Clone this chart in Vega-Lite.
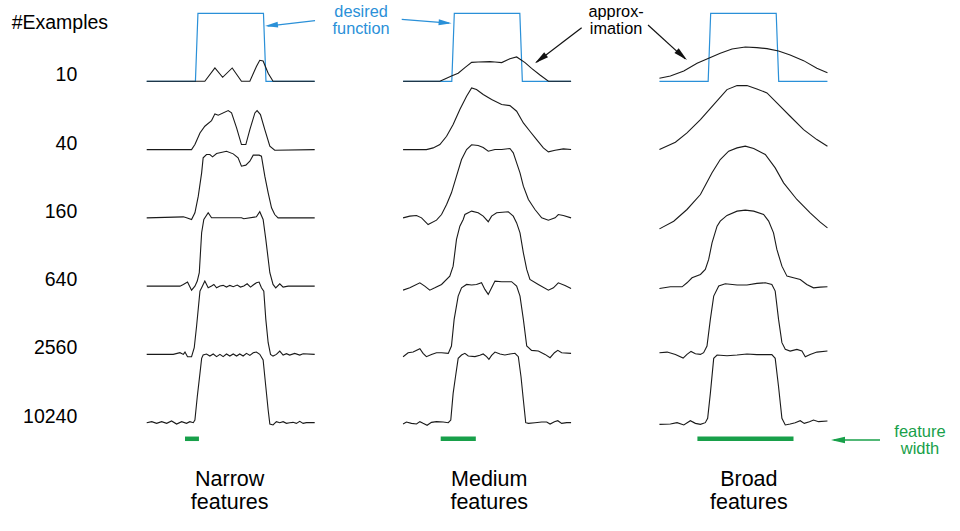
{
"$schema":"https://vega.github.io/schema/vega-lite/v6.json",
"width":960,"height":531,
"autosize":{"type":"fit","contains":"padding"},
"padding":0,
"background":"white",
"config":{"view":{"stroke":null},"text":{"font":"Liberation Sans"}},
"datasets":{
"desired":[
{"features":"Narrow","examples":10,"x":0,"y":0},{"features":"Narrow","examples":10,"x":0.29,"y":0},{"features":"Narrow","examples":10,"x":0.305,"y":1},{"features":"Narrow","examples":10,"x":0.695,"y":1},{"features":"Narrow","examples":10,"x":0.71,"y":0},{"features":"Narrow","examples":10,"x":1,"y":0},
{"features":"Medium","examples":10,"x":0,"y":0},{"features":"Medium","examples":10,"x":0.29,"y":0},{"features":"Medium","examples":10,"x":0.305,"y":1},{"features":"Medium","examples":10,"x":0.695,"y":1},{"features":"Medium","examples":10,"x":0.71,"y":0},{"features":"Medium","examples":10,"x":1,"y":0},
{"features":"Broad","examples":10,"x":0,"y":0},{"features":"Broad","examples":10,"x":0.29,"y":0},{"features":"Broad","examples":10,"x":0.305,"y":1},{"features":"Broad","examples":10,"x":0.695,"y":1},{"features":"Broad","examples":10,"x":0.71,"y":0},{"features":"Broad","examples":10,"x":1,"y":0}
],
"approx":[
{"features":"Narrow","examples":10,"x":0,"y":0},{"features":"Narrow","examples":10,"x":0.346,"y":0},{"features":"Narrow","examples":10,"x":0.406,"y":0.196},{"features":"Narrow","examples":10,"x":0.452,"y":0.059},{"features":"Narrow","examples":10,"x":0.509,"y":0.196},{"features":"Narrow","examples":10,"x":0.564,"y":0},{"features":"Narrow","examples":10,"x":0.614,"y":0},{"features":"Narrow","examples":10,"x":0.653,"y":0.216},{"features":"Narrow","examples":10,"x":0.673,"y":0.309},{"features":"Narrow","examples":10,"x":0.693,"y":0.299},{"features":"Narrow","examples":10,"x":0.723,"y":0.118},{"features":"Narrow","examples":10,"x":0.752,"y":0},{"features":"Narrow","examples":10,"x":1,"y":0},

{"features":"Narrow","examples":40,"x":0,"y":0},{"features":"Narrow","examples":40,"x":0.267,"y":0},{"features":"Narrow","examples":40,"x":0.287,"y":0.074},{"features":"Narrow","examples":40,"x":0.317,"y":0.245},{"features":"Narrow","examples":40,"x":0.346,"y":0.343},{"features":"Narrow","examples":40,"x":0.386,"y":0.426},{"features":"Narrow","examples":40,"x":0.406,"y":0.525},{"features":"Narrow","examples":40,"x":0.426,"y":0.505},{"features":"Narrow","examples":40,"x":0.485,"y":0.574},{"features":"Narrow","examples":40,"x":0.505,"y":0.539},{"features":"Narrow","examples":40,"x":0.535,"y":0.319},{"features":"Narrow","examples":40,"x":0.564,"y":0.074},{"features":"Narrow","examples":40,"x":0.59,"y":0.074},{"features":"Narrow","examples":40,"x":0.614,"y":0.294},{"features":"Narrow","examples":40,"x":0.644,"y":0.539},{"features":"Narrow","examples":40,"x":0.657,"y":0.574},{"features":"Narrow","examples":40,"x":0.677,"y":0.515},{"features":"Narrow","examples":40,"x":0.703,"y":0.294},{"features":"Narrow","examples":40,"x":0.733,"y":0.049},{"features":"Narrow","examples":40,"x":0.762,"y":-0.01},{"features":"Narrow","examples":40,"x":1,"y":0},

{"features":"Narrow","examples":160,"x":0,"y":0},{"features":"Narrow","examples":160,"x":0.218,"y":0.015},{"features":"Narrow","examples":160,"x":0.237,"y":0},{"features":"Narrow","examples":160,"x":0.267,"y":-0.025},{"features":"Narrow","examples":160,"x":0.287,"y":0.074},{"features":"Narrow","examples":160,"x":0.307,"y":0.319},{"features":"Narrow","examples":160,"x":0.327,"y":0.662},{"features":"Narrow","examples":160,"x":0.336,"y":0.882},{"features":"Narrow","examples":160,"x":0.356,"y":0.931},{"features":"Narrow","examples":160,"x":0.376,"y":0.931},{"features":"Narrow","examples":160,"x":0.392,"y":0.897},{"features":"Narrow","examples":160,"x":0.416,"y":0.946},{"features":"Narrow","examples":160,"x":0.475,"y":0.98},{"features":"Narrow","examples":160,"x":0.515,"y":0.941},{"features":"Narrow","examples":160,"x":0.544,"y":0.882},{"features":"Narrow","examples":160,"x":0.564,"y":0.76},{"features":"Narrow","examples":160,"x":0.59,"y":0.775},{"features":"Narrow","examples":160,"x":0.614,"y":0.833},{"features":"Narrow","examples":160,"x":0.634,"y":0.922},{"features":"Narrow","examples":160,"x":0.669,"y":0.922},{"features":"Narrow","examples":160,"x":0.683,"y":0.907},{"features":"Narrow","examples":160,"x":0.703,"y":0.613},{"features":"Narrow","examples":160,"x":0.723,"y":0.368},{"features":"Narrow","examples":160,"x":0.743,"y":0.147},{"features":"Narrow","examples":160,"x":0.762,"y":0.049},{"features":"Narrow","examples":160,"x":0.782,"y":0},{"features":"Narrow","examples":160,"x":1,"y":0},

{"features":"Narrow","examples":640,"x":0,"y":0},{"features":"Narrow","examples":640,"x":0.198,"y":0},{"features":"Narrow","examples":640,"x":0.218,"y":0.025},{"features":"Narrow","examples":640,"x":0.243,"y":0.059},{"features":"Narrow","examples":640,"x":0.267,"y":-0.059},{"features":"Narrow","examples":640,"x":0.287,"y":0},{"features":"Narrow","examples":640,"x":0.301,"y":0.074},{"features":"Narrow","examples":640,"x":0.313,"y":0.197},{"features":"Narrow","examples":640,"x":0.327,"y":0.785},{"features":"Narrow","examples":640,"x":0.34,"y":0.98},{"features":"Narrow","examples":640,"x":0.366,"y":1.08},{"features":"Narrow","examples":640,"x":0.386,"y":1.006},{"features":"Narrow","examples":640,"x":0.564,"y":1.006},{"features":"Narrow","examples":640,"x":0.578,"y":0.991},{"features":"Narrow","examples":640,"x":0.653,"y":1.02},{"features":"Narrow","examples":640,"x":0.673,"y":1.094},{"features":"Narrow","examples":640,"x":0.693,"y":0.98},{"features":"Narrow","examples":640,"x":0.709,"y":0.687},{"features":"Narrow","examples":640,"x":0.733,"y":0.197},{"features":"Narrow","examples":640,"x":0.752,"y":0.025},{"features":"Narrow","examples":640,"x":0.768,"y":-0.025},{"features":"Narrow","examples":640,"x":0.792,"y":0.035},{"features":"Narrow","examples":640,"x":0.812,"y":-0.015},{"features":"Narrow","examples":640,"x":0.842,"y":0},{"features":"Narrow","examples":640,"x":1,"y":0},

{"features":"Narrow","examples":2560,"x":0,"y":0},{"features":"Narrow","examples":2560,"x":0.158,"y":0},{"features":"Narrow","examples":2560,"x":0.198,"y":0.025},{"features":"Narrow","examples":2560,"x":0.218,"y":0},{"features":"Narrow","examples":2560,"x":0.228,"y":0.034},{"features":"Narrow","examples":2560,"x":0.243,"y":-0.034},{"features":"Narrow","examples":2560,"x":0.267,"y":-0.034},{"features":"Narrow","examples":2560,"x":0.283,"y":0.098},{"features":"Narrow","examples":2560,"x":0.297,"y":0.417},{"features":"Narrow","examples":2560,"x":0.317,"y":0.931},{"features":"Narrow","examples":2560,"x":0.327,"y":0.98},{"features":"Narrow","examples":2560,"x":0.346,"y":1.078},{"features":"Narrow","examples":2560,"x":0.366,"y":0.98},{"features":"Narrow","examples":2560,"x":0.386,"y":1.005},{"features":"Narrow","examples":2560,"x":0.4,"y":1.029},{"features":"Narrow","examples":2560,"x":0.416,"y":0.98},{"features":"Narrow","examples":2560,"x":0.436,"y":1.005},{"features":"Narrow","examples":2560,"x":0.455,"y":1.015},{"features":"Narrow","examples":2560,"x":0.475,"y":0.99},{"features":"Narrow","examples":2560,"x":0.495,"y":1.015},{"features":"Narrow","examples":2560,"x":0.515,"y":0.995},{"features":"Narrow","examples":2560,"x":0.539,"y":1.02},{"features":"Narrow","examples":2560,"x":0.558,"y":0.99},{"features":"Narrow","examples":2560,"x":0.578,"y":1.005},{"features":"Narrow","examples":2560,"x":0.598,"y":1.039},{"features":"Narrow","examples":2560,"x":0.618,"y":0.99},{"features":"Narrow","examples":2560,"x":0.634,"y":1.02},{"features":"Narrow","examples":2560,"x":0.653,"y":1.054},{"features":"Narrow","examples":2560,"x":0.669,"y":1.064},{"features":"Narrow","examples":2560,"x":0.683,"y":0.98},{"features":"Narrow","examples":2560,"x":0.697,"y":0.931},{"features":"Narrow","examples":2560,"x":0.709,"y":0.515},{"features":"Narrow","examples":2560,"x":0.723,"y":0.172},{"features":"Narrow","examples":2560,"x":0.737,"y":0},{"features":"Narrow","examples":2560,"x":0.752,"y":-0.025},{"features":"Narrow","examples":2560,"x":0.772,"y":0},{"features":"Narrow","examples":2560,"x":0.792,"y":0.049},{"features":"Narrow","examples":2560,"x":0.812,"y":-0.01},{"features":"Narrow","examples":2560,"x":0.832,"y":0.01},{"features":"Narrow","examples":2560,"x":0.851,"y":-0.01},{"features":"Narrow","examples":2560,"x":0.881,"y":0.015},{"features":"Narrow","examples":2560,"x":0.911,"y":-0.01},{"features":"Narrow","examples":2560,"x":0.931,"y":0.01},{"features":"Narrow","examples":2560,"x":1,"y":0},

{"features":"Narrow","examples":10240,"x":0,"y":0},{"features":"Narrow","examples":10240,"x":0.03,"y":0.015},{"features":"Narrow","examples":10240,"x":0.059,"y":-0.01},{"features":"Narrow","examples":10240,"x":0.089,"y":0.015},{"features":"Narrow","examples":10240,"x":0.119,"y":-0.01},{"features":"Narrow","examples":10240,"x":0.148,"y":0.025},{"features":"Narrow","examples":10240,"x":0.178,"y":-0.02},{"features":"Narrow","examples":10240,"x":0.208,"y":0.015},{"features":"Narrow","examples":10240,"x":0.237,"y":-0.01},{"features":"Narrow","examples":10240,"x":0.257,"y":0.015},{"features":"Narrow","examples":10240,"x":0.277,"y":0},{"features":"Narrow","examples":10240,"x":0.287,"y":0.039},{"features":"Narrow","examples":10240,"x":0.301,"y":0.382},{"features":"Narrow","examples":10240,"x":0.317,"y":0.725},{"features":"Narrow","examples":10240,"x":0.327,"y":0.946},{"features":"Narrow","examples":10240,"x":0.336,"y":0.995},{"features":"Narrow","examples":10240,"x":0.356,"y":1.01},{"features":"Narrow","examples":10240,"x":0.376,"y":0.98},{"features":"Narrow","examples":10240,"x":0.396,"y":1.01},{"features":"Narrow","examples":10240,"x":0.416,"y":0.971},{"features":"Narrow","examples":10240,"x":0.436,"y":1.005},{"features":"Narrow","examples":10240,"x":0.455,"y":0.971},{"features":"Narrow","examples":10240,"x":0.475,"y":1.01},{"features":"Narrow","examples":10240,"x":0.495,"y":0.98},{"features":"Narrow","examples":10240,"x":0.515,"y":1.01},{"features":"Narrow","examples":10240,"x":0.535,"y":0.98},{"features":"Narrow","examples":10240,"x":0.554,"y":1.01},{"features":"Narrow","examples":10240,"x":0.574,"y":0.98},{"features":"Narrow","examples":10240,"x":0.594,"y":1.02},{"features":"Narrow","examples":10240,"x":0.614,"y":0.99},{"features":"Narrow","examples":10240,"x":0.634,"y":1.029},{"features":"Narrow","examples":10240,"x":0.653,"y":1.039},{"features":"Narrow","examples":10240,"x":0.673,"y":1.005},{"features":"Narrow","examples":10240,"x":0.693,"y":0.922},{"features":"Narrow","examples":10240,"x":0.709,"y":0.529},{"features":"Narrow","examples":10240,"x":0.723,"y":0.186},{"features":"Narrow","examples":10240,"x":0.733,"y":-0.02},{"features":"Narrow","examples":10240,"x":0.752,"y":-0.034},{"features":"Narrow","examples":10240,"x":0.772,"y":0.015},{"features":"Narrow","examples":10240,"x":0.792,"y":0},{"features":"Narrow","examples":10240,"x":0.812,"y":0.015},{"features":"Narrow","examples":10240,"x":0.832,"y":-0.01},{"features":"Narrow","examples":10240,"x":0.851,"y":0},{"features":"Narrow","examples":10240,"x":0.871,"y":0.005},{"features":"Narrow","examples":10240,"x":0.891,"y":-0.01},{"features":"Narrow","examples":10240,"x":0.911,"y":0.02},{"features":"Narrow","examples":10240,"x":0.931,"y":-0.01},{"features":"Narrow","examples":10240,"x":0.95,"y":0},{"features":"Narrow","examples":10240,"x":1,"y":0},

{"features":"Medium","examples":10,"x":0,"y":0},{"features":"Medium","examples":10,"x":0.219,"y":0},{"features":"Medium","examples":10,"x":0.249,"y":0.034},{"features":"Medium","examples":10,"x":0.288,"y":0.078},{"features":"Medium","examples":10,"x":0.328,"y":0.118},{"features":"Medium","examples":10,"x":0.368,"y":0.201},{"features":"Medium","examples":10,"x":0.408,"y":0.279},{"features":"Medium","examples":10,"x":0.447,"y":0.284},{"features":"Medium","examples":10,"x":0.517,"y":0.289},{"features":"Medium","examples":10,"x":0.547,"y":0.284},{"features":"Medium","examples":10,"x":0.587,"y":0.275},{"features":"Medium","examples":10,"x":0.636,"y":0.333},{"features":"Medium","examples":10,"x":0.676,"y":0.358},{"features":"Medium","examples":10,"x":0.726,"y":0.275},{"features":"Medium","examples":10,"x":0.765,"y":0.191},{"features":"Medium","examples":10,"x":0.815,"y":0.093},{"features":"Medium","examples":10,"x":0.865,"y":0},{"features":"Medium","examples":10,"x":1,"y":0},

{"features":"Medium","examples":40,"x":0,"y":0},{"features":"Medium","examples":40,"x":0.139,"y":0},{"features":"Medium","examples":40,"x":0.179,"y":0.025},{"features":"Medium","examples":40,"x":0.219,"y":0.074},{"features":"Medium","examples":40,"x":0.259,"y":0.196},{"features":"Medium","examples":40,"x":0.298,"y":0.368},{"features":"Medium","examples":40,"x":0.338,"y":0.588},{"features":"Medium","examples":40,"x":0.378,"y":0.784},{"features":"Medium","examples":40,"x":0.408,"y":0.907},{"features":"Medium","examples":40,"x":0.437,"y":0.882},{"features":"Medium","examples":40,"x":0.477,"y":0.809},{"features":"Medium","examples":40,"x":0.527,"y":0.735},{"features":"Medium","examples":40,"x":0.587,"y":0.662},{"features":"Medium","examples":40,"x":0.636,"y":0.647},{"features":"Medium","examples":40,"x":0.676,"y":0.564},{"features":"Medium","examples":40,"x":0.716,"y":0.392},{"features":"Medium","examples":40,"x":0.755,"y":0.27},{"features":"Medium","examples":40,"x":0.795,"y":0.147},{"features":"Medium","examples":40,"x":0.835,"y":0.025},{"features":"Medium","examples":40,"x":0.865,"y":-0.034},{"features":"Medium","examples":40,"x":0.905,"y":-0.01},{"features":"Medium","examples":40,"x":0.954,"y":0.01},{"features":"Medium","examples":40,"x":1,"y":0},

{"features":"Medium","examples":160,"x":0,"y":0},{"features":"Medium","examples":160,"x":0.04,"y":0.025},{"features":"Medium","examples":160,"x":0.08,"y":0.034},{"features":"Medium","examples":160,"x":0.11,"y":0},{"features":"Medium","examples":160,"x":0.149,"y":-0.098},{"features":"Medium","examples":160,"x":0.199,"y":-0.034},{"features":"Medium","examples":160,"x":0.229,"y":0.049},{"features":"Medium","examples":160,"x":0.259,"y":0.196},{"features":"Medium","examples":160,"x":0.288,"y":0.368},{"features":"Medium","examples":160,"x":0.318,"y":0.613},{"features":"Medium","examples":160,"x":0.348,"y":0.858},{"features":"Medium","examples":160,"x":0.378,"y":1.005},{"features":"Medium","examples":160,"x":0.408,"y":1.074},{"features":"Medium","examples":160,"x":0.447,"y":1.064},{"features":"Medium","examples":160,"x":0.477,"y":1.034},{"features":"Medium","examples":160,"x":0.507,"y":0.98},{"features":"Medium","examples":160,"x":0.547,"y":1.005},{"features":"Medium","examples":160,"x":0.587,"y":1.005},{"features":"Medium","examples":160,"x":0.636,"y":1.02},{"features":"Medium","examples":160,"x":0.656,"y":0.956},{"features":"Medium","examples":160,"x":0.676,"y":0.809},{"features":"Medium","examples":160,"x":0.696,"y":0.662},{"features":"Medium","examples":160,"x":0.716,"y":0.466},{"features":"Medium","examples":160,"x":0.746,"y":0.27},{"features":"Medium","examples":160,"x":0.785,"y":0.123},{"features":"Medium","examples":160,"x":0.825,"y":0},{"features":"Medium","examples":160,"x":0.865,"y":-0.034},{"features":"Medium","examples":160,"x":0.905,"y":0},{"features":"Medium","examples":160,"x":0.924,"y":0.049},{"features":"Medium","examples":160,"x":0.954,"y":0.034},{"features":"Medium","examples":160,"x":1,"y":0},

{"features":"Medium","examples":640,"x":0,"y":-0.059},{"features":"Medium","examples":640,"x":0.04,"y":-0.025},{"features":"Medium","examples":640,"x":0.1,"y":0.049},{"features":"Medium","examples":640,"x":0.129,"y":0},{"features":"Medium","examples":640,"x":0.159,"y":-0.059},{"features":"Medium","examples":640,"x":0.189,"y":-0.025},{"features":"Medium","examples":640,"x":0.229,"y":0.025},{"features":"Medium","examples":640,"x":0.278,"y":0.147},{"features":"Medium","examples":640,"x":0.298,"y":0.294},{"features":"Medium","examples":640,"x":0.318,"y":0.686},{"features":"Medium","examples":640,"x":0.338,"y":0.882},{"features":"Medium","examples":640,"x":0.358,"y":0.98},{"features":"Medium","examples":640,"x":0.368,"y":1.054},{"features":"Medium","examples":640,"x":0.408,"y":1.103},{"features":"Medium","examples":640,"x":0.447,"y":1.079},{"features":"Medium","examples":640,"x":0.477,"y":1.029},{"features":"Medium","examples":640,"x":0.507,"y":0.947},{"features":"Medium","examples":640,"x":0.527,"y":1.029},{"features":"Medium","examples":640,"x":0.557,"y":1.079},{"features":"Medium","examples":640,"x":0.626,"y":1.094},{"features":"Medium","examples":640,"x":0.656,"y":1.029},{"features":"Medium","examples":640,"x":0.676,"y":0.93},{"features":"Medium","examples":640,"x":0.696,"y":0.784},{"features":"Medium","examples":640,"x":0.716,"y":0.49},{"features":"Medium","examples":640,"x":0.736,"y":0.245},{"features":"Medium","examples":640,"x":0.755,"y":0.098},{"features":"Medium","examples":640,"x":0.805,"y":0.025},{"features":"Medium","examples":640,"x":0.865,"y":-0.059},{"features":"Medium","examples":640,"x":0.895,"y":-0.025},{"features":"Medium","examples":640,"x":0.924,"y":0.049},{"features":"Medium","examples":640,"x":0.964,"y":0.01},{"features":"Medium","examples":640,"x":1,"y":-0.034},

{"features":"Medium","examples":2560,"x":0,"y":-0.034},{"features":"Medium","examples":2560,"x":0.03,"y":0.025},{"features":"Medium","examples":2560,"x":0.06,"y":0.034},{"features":"Medium","examples":2560,"x":0.1,"y":0.083},{"features":"Medium","examples":2560,"x":0.119,"y":0.015},{"features":"Medium","examples":2560,"x":0.139,"y":-0.034},{"features":"Medium","examples":2560,"x":0.169,"y":0},{"features":"Medium","examples":2560,"x":0.199,"y":0.025},{"features":"Medium","examples":2560,"x":0.229,"y":0.025},{"features":"Medium","examples":2560,"x":0.269,"y":0.015},{"features":"Medium","examples":2560,"x":0.288,"y":0.123},{"features":"Medium","examples":2560,"x":0.304,"y":0.515},{"features":"Medium","examples":2560,"x":0.328,"y":0.858},{"features":"Medium","examples":2560,"x":0.348,"y":0.98},{"features":"Medium","examples":2560,"x":0.378,"y":1.029},{"features":"Medium","examples":2560,"x":0.408,"y":1.02},{"features":"Medium","examples":2560,"x":0.437,"y":1.029},{"features":"Medium","examples":2560,"x":0.467,"y":1.054},{"features":"Medium","examples":2560,"x":0.487,"y":0.956},{"features":"Medium","examples":2560,"x":0.507,"y":0.882},{"features":"Medium","examples":2560,"x":0.527,"y":0.98},{"features":"Medium","examples":2560,"x":0.547,"y":1.078},{"features":"Medium","examples":2560,"x":0.587,"y":1.069},{"features":"Medium","examples":2560,"x":0.646,"y":1.069},{"features":"Medium","examples":2560,"x":0.676,"y":1.005},{"features":"Medium","examples":2560,"x":0.696,"y":0.858},{"features":"Medium","examples":2560,"x":0.716,"y":0.515},{"features":"Medium","examples":2560,"x":0.736,"y":0.123},{"features":"Medium","examples":2560,"x":0.765,"y":0.059},{"features":"Medium","examples":2560,"x":0.805,"y":0.049},{"features":"Medium","examples":2560,"x":0.845,"y":0},{"features":"Medium","examples":2560,"x":0.875,"y":-0.049},{"features":"Medium","examples":2560,"x":0.901,"y":0.025},{"features":"Medium","examples":2560,"x":0.921,"y":0.059},{"features":"Medium","examples":2560,"x":0.944,"y":0.025},{"features":"Medium","examples":2560,"x":1,"y":0.015},

{"features":"Medium","examples":10240,"x":0,"y":-0.02},{"features":"Medium","examples":10240,"x":0.02,"y":0.01},{"features":"Medium","examples":10240,"x":0.05,"y":-0.01},{"features":"Medium","examples":10240,"x":0.08,"y":-0.02},{"features":"Medium","examples":10240,"x":0.1,"y":0.015},{"features":"Medium","examples":10240,"x":0.119,"y":-0.01},{"features":"Medium","examples":10240,"x":0.143,"y":-0.039},{"features":"Medium","examples":10240,"x":0.169,"y":0.005},{"features":"Medium","examples":10240,"x":0.199,"y":0.015},{"features":"Medium","examples":10240,"x":0.239,"y":0.01},{"features":"Medium","examples":10240,"x":0.269,"y":0},{"features":"Medium","examples":10240,"x":0.284,"y":0.039},{"features":"Medium","examples":10240,"x":0.298,"y":0.431},{"features":"Medium","examples":10240,"x":0.312,"y":0.676},{"features":"Medium","examples":10240,"x":0.328,"y":0.946},{"features":"Medium","examples":10240,"x":0.348,"y":0.995},{"features":"Medium","examples":10240,"x":0.368,"y":1.02},{"features":"Medium","examples":10240,"x":0.388,"y":0.98},{"features":"Medium","examples":10240,"x":0.428,"y":0.971},{"features":"Medium","examples":10240,"x":0.457,"y":0.99},{"features":"Medium","examples":10240,"x":0.477,"y":1.01},{"features":"Medium","examples":10240,"x":0.497,"y":0.971},{"features":"Medium","examples":10240,"x":0.511,"y":0.931},{"features":"Medium","examples":10240,"x":0.527,"y":0.99},{"features":"Medium","examples":10240,"x":0.547,"y":1.039},{"features":"Medium","examples":10240,"x":0.577,"y":1.01},{"features":"Medium","examples":10240,"x":0.606,"y":0.995},{"features":"Medium","examples":10240,"x":0.636,"y":1.01},{"features":"Medium","examples":10240,"x":0.666,"y":1.02},{"features":"Medium","examples":10240,"x":0.686,"y":0.971},{"features":"Medium","examples":10240,"x":0.702,"y":0.676},{"features":"Medium","examples":10240,"x":0.716,"y":0.333},{"features":"Medium","examples":10240,"x":0.73,"y":0},{"features":"Medium","examples":10240,"x":0.746,"y":-0.01},{"features":"Medium","examples":10240,"x":0.785,"y":0},{"features":"Medium","examples":10240,"x":0.825,"y":0.01},{"features":"Medium","examples":10240,"x":0.855,"y":0.01},{"features":"Medium","examples":10240,"x":0.875,"y":-0.02},{"features":"Medium","examples":10240,"x":0.901,"y":0.015},{"features":"Medium","examples":10240,"x":0.921,"y":0.029},{"features":"Medium","examples":10240,"x":0.944,"y":-0.01},{"features":"Medium","examples":10240,"x":0.974,"y":0},{"features":"Medium","examples":10240,"x":1,"y":0},

{"features":"Broad","examples":10,"x":0,"y":0.044},{"features":"Broad","examples":10,"x":0.065,"y":0.078},{"features":"Broad","examples":10,"x":0.145,"y":0.152},{"features":"Broad","examples":10,"x":0.224,"y":0.265},{"features":"Broad","examples":10,"x":0.293,"y":0.338},{"features":"Broad","examples":10,"x":0.362,"y":0.412},{"features":"Broad","examples":10,"x":0.432,"y":0.475},{"features":"Broad","examples":10,"x":0.511,"y":0.505},{"features":"Broad","examples":10,"x":0.58,"y":0.495},{"features":"Broad","examples":10,"x":0.64,"y":0.48},{"features":"Broad","examples":10,"x":0.709,"y":0.446},{"features":"Broad","examples":10,"x":0.778,"y":0.387},{"features":"Broad","examples":10,"x":0.858,"y":0.304},{"features":"Broad","examples":10,"x":0.937,"y":0.191},{"features":"Broad","examples":10,"x":1,"y":0.127},

{"features":"Broad","examples":40,"x":0,"y":0},{"features":"Broad","examples":40,"x":0.095,"y":0.108},{"features":"Broad","examples":40,"x":0.164,"y":0.245},{"features":"Broad","examples":40,"x":0.244,"y":0.441},{"features":"Broad","examples":40,"x":0.323,"y":0.662},{"features":"Broad","examples":40,"x":0.402,"y":0.882},{"features":"Broad","examples":40,"x":0.462,"y":0.941},{"features":"Broad","examples":40,"x":0.521,"y":0.941},{"features":"Broad","examples":40,"x":0.58,"y":0.892},{"features":"Broad","examples":40,"x":0.64,"y":0.833},{"features":"Broad","examples":40,"x":0.699,"y":0.686},{"features":"Broad","examples":40,"x":0.778,"y":0.49},{"features":"Broad","examples":40,"x":0.858,"y":0.294},{"features":"Broad","examples":40,"x":0.937,"y":0.147},{"features":"Broad","examples":40,"x":1,"y":0.049},

{"features":"Broad","examples":160,"x":0,"y":-0.162},{"features":"Broad","examples":160,"x":0.085,"y":-0.049},{"features":"Broad","examples":160,"x":0.164,"y":0.123},{"features":"Broad","examples":160,"x":0.244,"y":0.343},{"features":"Broad","examples":160,"x":0.313,"y":0.662},{"features":"Broad","examples":160,"x":0.362,"y":0.858},{"features":"Broad","examples":160,"x":0.412,"y":0.98},{"features":"Broad","examples":160,"x":0.462,"y":1.029},{"features":"Broad","examples":160,"x":0.511,"y":1.054},{"features":"Broad","examples":160,"x":0.561,"y":1.02},{"features":"Broad","examples":160,"x":0.63,"y":0.931},{"features":"Broad","examples":160,"x":0.689,"y":0.735},{"features":"Broad","examples":160,"x":0.739,"y":0.515},{"features":"Broad","examples":160,"x":0.818,"y":0.27},{"features":"Broad","examples":160,"x":0.897,"y":0.074},{"features":"Broad","examples":160,"x":0.957,"y":-0.064},{"features":"Broad","examples":160,"x":1,"y":-0.147},

{"features":"Broad","examples":640,"x":0,"y":-0.034},{"features":"Broad","examples":640,"x":0.065,"y":-0.01},{"features":"Broad","examples":640,"x":0.135,"y":-0.01},{"features":"Broad","examples":640,"x":0.164,"y":0.049},{"features":"Broad","examples":640,"x":0.194,"y":0.123},{"features":"Broad","examples":640,"x":0.244,"y":0.172},{"features":"Broad","examples":640,"x":0.273,"y":0.245},{"features":"Broad","examples":640,"x":0.293,"y":0.392},{"features":"Broad","examples":640,"x":0.313,"y":0.637},{"features":"Broad","examples":640,"x":0.343,"y":0.882},{"features":"Broad","examples":640,"x":0.362,"y":0.956},{"features":"Broad","examples":640,"x":0.402,"y":1.04},{"features":"Broad","examples":640,"x":0.462,"y":1.103},{"features":"Broad","examples":640,"x":0.511,"y":1.118},{"features":"Broad","examples":640,"x":0.561,"y":1.103},{"features":"Broad","examples":640,"x":0.62,"y":1.054},{"features":"Broad","examples":640,"x":0.65,"y":0.956},{"features":"Broad","examples":640,"x":0.679,"y":0.784},{"features":"Broad","examples":640,"x":0.699,"y":0.539},{"features":"Broad","examples":640,"x":0.729,"y":0.294},{"features":"Broad","examples":640,"x":0.759,"y":0.147},{"features":"Broad","examples":640,"x":0.798,"y":0.123},{"features":"Broad","examples":640,"x":0.838,"y":0.098},{"features":"Broad","examples":640,"x":0.877,"y":0.025},{"features":"Broad","examples":640,"x":0.917,"y":-0.025},{"features":"Broad","examples":640,"x":0.957,"y":-0.015},{"features":"Broad","examples":640,"x":1,"y":-0.01},

{"features":"Broad","examples":2560,"x":0,"y":0.025},{"features":"Broad","examples":2560,"x":0.046,"y":0.034},{"features":"Broad","examples":2560,"x":0.095,"y":0},{"features":"Broad","examples":2560,"x":0.141,"y":-0.054},{"features":"Broad","examples":2560,"x":0.164,"y":0},{"features":"Broad","examples":2560,"x":0.188,"y":0.044},{"features":"Broad","examples":2560,"x":0.214,"y":0.01},{"features":"Broad","examples":2560,"x":0.244,"y":0},{"features":"Broad","examples":2560,"x":0.263,"y":0.025},{"features":"Broad","examples":2560,"x":0.283,"y":0.123},{"features":"Broad","examples":2560,"x":0.303,"y":0.515},{"features":"Broad","examples":2560,"x":0.323,"y":0.858},{"features":"Broad","examples":2560,"x":0.353,"y":1.005},{"features":"Broad","examples":2560,"x":0.392,"y":1.039},{"features":"Broad","examples":2560,"x":0.462,"y":1.02},{"features":"Broad","examples":2560,"x":0.521,"y":1.02},{"features":"Broad","examples":2560,"x":0.58,"y":1.044},{"features":"Broad","examples":2560,"x":0.63,"y":1.054},{"features":"Broad","examples":2560,"x":0.669,"y":1.029},{"features":"Broad","examples":2560,"x":0.689,"y":0.931},{"features":"Broad","examples":2560,"x":0.709,"y":0.515},{"features":"Broad","examples":2560,"x":0.729,"y":0.172},{"features":"Broad","examples":2560,"x":0.749,"y":0.074},{"features":"Broad","examples":2560,"x":0.778,"y":0.049},{"features":"Broad","examples":2560,"x":0.818,"y":0.074},{"features":"Broad","examples":2560,"x":0.848,"y":0.049},{"features":"Broad","examples":2560,"x":0.868,"y":-0.034},{"features":"Broad","examples":2560,"x":0.897,"y":0},{"features":"Broad","examples":2560,"x":0.937,"y":0.034},{"features":"Broad","examples":2560,"x":1,"y":0.049},

{"features":"Broad","examples":10240,"x":0,"y":-0.025},{"features":"Broad","examples":10240,"x":0.065,"y":-0.02},{"features":"Broad","examples":10240,"x":0.105,"y":0},{"features":"Broad","examples":10240,"x":0.145,"y":-0.034},{"features":"Broad","examples":10240,"x":0.184,"y":0.029},{"features":"Broad","examples":10240,"x":0.214,"y":-0.01},{"features":"Broad","examples":10240,"x":0.244,"y":-0.025},{"features":"Broad","examples":10240,"x":0.273,"y":0},{"features":"Broad","examples":10240,"x":0.287,"y":0.064},{"features":"Broad","examples":10240,"x":0.303,"y":0.431},{"features":"Broad","examples":10240,"x":0.323,"y":0.946},{"features":"Broad","examples":10240,"x":0.343,"y":0.995},{"features":"Broad","examples":10240,"x":0.402,"y":0.985},{"features":"Broad","examples":10240,"x":0.462,"y":0.995},{"features":"Broad","examples":10240,"x":0.521,"y":1.01},{"features":"Broad","examples":10240,"x":0.58,"y":1.0},{"features":"Broad","examples":10240,"x":0.64,"y":1.0},{"features":"Broad","examples":10240,"x":0.669,"y":1.0},{"features":"Broad","examples":10240,"x":0.689,"y":0.946},{"features":"Broad","examples":10240,"x":0.709,"y":0.529},{"features":"Broad","examples":10240,"x":0.729,"y":0.064},{"features":"Broad","examples":10240,"x":0.749,"y":-0.034},{"features":"Broad","examples":10240,"x":0.778,"y":-0.02},{"features":"Broad","examples":10240,"x":0.808,"y":0},{"features":"Broad","examples":10240,"x":0.838,"y":0.029},{"features":"Broad","examples":10240,"x":0.862,"y":-0.01},{"features":"Broad","examples":10240,"x":0.893,"y":0.015},{"features":"Broad","examples":10240,"x":0.917,"y":0.039},{"features":"Broad","examples":10240,"x":0.947,"y":0.015},{"features":"Broad","examples":10240,"x":1,"y":0.025}
],
"rows":[{"examples":10},{"examples":40},{"examples":160},{"examples":640},{"examples":2560},{"examples":10240}],
"widths":[{"features":"Narrow","start":0.228,"end":0.311},{"features":"Medium","start":0.224,"end":0.433},{"features":"Broad","start":0.226,"end":0.798}],
"columns":[{"features":"Narrow","label":["Narrow","features"]},{"features":"Medium","label":["Medium","features"]},{"features":"Broad","label":["Broad","features"]}]
},
"layer":[
{"data":{"name":"desired"},
 "transform":[{"calculate":"indexof(['Narrow','Medium','Broad'], datum.features) * 1.526 + datum.x","as":"gx"},{"calculate":"datum.y - indexof([10,40,160,640,2560,10240], datum.examples) * 1.004","as":"gy"}],
 "mark":{"type":"line","color":"#2a90d8","strokeWidth":1.2},
 "encoding":{"x":{"field":"gx","type":"quantitative","scale":{"domain":[-0.8732,4.841],"nice":false,"zero":false},"axis":null},
  "y":{"field":"gy","type":"quantitative","scale":{"domain":[-6.613,1.1956],"nice":false,"zero":false},"axis":null},
  "detail":{"field":"features"}}},
{"data":{"name":"approx"},
 "transform":[{"calculate":"indexof(['Narrow','Medium','Broad'], datum.features) * 1.526 + datum.x","as":"gx"},{"calculate":"datum.y - indexof([10,40,160,640,2560,10240], datum.examples) * 1.004","as":"gy"}],
 "mark":{"type":"line","color":"#1a1a1a","strokeWidth":1.1},
 "encoding":{"x":{"field":"gx","type":"quantitative","scale":{"domain":[-0.8732,4.841],"nice":false,"zero":false},"axis":null},
  "y":{"field":"gy","type":"quantitative","scale":{"domain":[-6.613,1.1956],"nice":false,"zero":false},"axis":null},
  "detail":[{"field":"features"},{"field":"examples"}]}},
{"data":{"name":"widths"},
 "transform":[{"calculate":"indexof(['Narrow','Medium','Broad'], datum.features) * 1.526 + datum.start","as":"gx"},{"calculate":"indexof(['Narrow','Medium','Broad'], datum.features) * 1.526 + datum.end","as":"gx2"}],
 "mark":{"type":"rule","color":"#18a04a","strokeWidth":4.5,"strokeCap":"butt"},
 "encoding":{"x":{"field":"gx","type":"quantitative"},"x2":{"field":"gx2"},"y":{"datum":-5.257,"type":"quantitative"}}},
{"data":{"name":"rows"},
 "transform":[{"calculate":"-indexof([10,40,160,640,2560,10240], datum.examples) * 1.004","as":"gy"}],
 "mark":{"type":"text","align":"right","baseline":"alphabetic","fontSize":19.5,"color":"#000"},
 "encoding":{"x":{"datum":-0.413,"type":"quantitative"},"y":{"field":"gy","type":"quantitative"},"text":{"field":"examples","type":"nominal"}}},
{"data":{"values":[{}]},
 "mark":{"type":"text","text":"#Examples","align":"left","baseline":"alphabetic","fontSize":19.5,"color":"#000"},
 "encoding":{"x":{"datum":-0.804,"type":"quantitative"},"y":{"datum":0.765,"type":"quantitative"}}},
{"data":{"name":"columns"},
 "transform":[{"calculate":"indexof(['Narrow','Medium','Broad'], datum.features) * 1.545 + 0.494","as":"gx"}],
 "mark":{"type":"text","align":"center","baseline":"alphabetic","fontSize":21.5,"lineHeight":22.5,"color":"#000"},
 "encoding":{"x":{"field":"gx","type":"quantitative"},"y":{"datum":-5.955,"type":"quantitative"},"text":{"field":"label","type":"nominal"}}},
{"data":{"values":[{}]},
 "mark":{"type":"text","text":["desired","function"],"align":"center","baseline":"alphabetic","fontSize":16.3,"lineHeight":17.2,"color":"#2a90d8"},
 "encoding":{"x":{"datum":1.276,"type":"quantitative"},"y":{"datum":0.95,"type":"quantitative"}}},
{"data":{"values":[{}]},
 "mark":{"type":"text","text":["approx-","imation"],"align":"center","baseline":"alphabetic","fontSize":16.3,"lineHeight":17.2,"color":"#000"},
 "encoding":{"x":{"datum":2.794,"type":"quantitative"},"y":{"datum":0.95,"type":"quantitative"}}},
{"data":{"values":[{}]},
 "mark":{"type":"text","text":["feature","width"],"align":"center","baseline":"alphabetic","fontSize":16.5,"lineHeight":17.4,"color":"#18a04a"},
 "encoding":{"x":{"datum":4.603,"type":"quantitative"},"y":{"datum":-5.226,"type":"quantitative"}}},
{"data":{"values":[{}]},"mark":{"type":"rule","color":"#2a90d8","strokeWidth":1.2},
 "encoding":{"x":{"datum":1.002,"type":"quantitative"},"y":{"datum":0.891,"type":"quantitative"},"x2":{"datum":0.72},"y2":{"datum":0.811}}},
{"data":{"values":[{}]},"mark":{"type":"point","shape":"M0,0L-2,-0.45L-2,0.45Z","filled":true,"opacity":1,"color":"#2a90d8","size":169,"angle":174},
 "encoding":{"x":{"datum":0.704,"type":"quantitative"},"y":{"datum":0.813,"type":"quantitative"}}},
{"data":{"values":[{}]},"mark":{"type":"rule","color":"#2a90d8","strokeWidth":1.2},
 "encoding":{"x":{"datum":1.518,"type":"quantitative"},"y":{"datum":0.912,"type":"quantitative"},"x2":{"datum":1.80},"y2":{"datum":0.855}}},
{"data":{"values":[{}]},"mark":{"type":"point","shape":"M0,0L-2,-0.45L-2,0.45Z","filled":true,"opacity":1,"color":"#2a90d8","size":169,"angle":4.6},
 "encoding":{"x":{"datum":1.815,"type":"quantitative"},"y":{"datum":0.853,"type":"quantitative"}}},
{"data":{"values":[{}]},"mark":{"type":"rule","color":"#111","strokeWidth":1.2},
 "encoding":{"x":{"datum":2.589,"type":"quantitative"},"y":{"datum":0.788,"type":"quantitative"},"x2":{"datum":2.32},"y2":{"datum":0.28}}},
{"data":{"values":[{}]},"mark":{"type":"point","shape":"M0,0L-2,-0.45L-2,0.45Z","filled":true,"opacity":1,"color":"#111","size":196,"angle":142.7},
 "encoding":{"x":{"datum":2.311,"type":"quantitative"},"y":{"datum":0.265,"type":"quantitative"}}},
{"data":{"values":[{}]},"mark":{"type":"rule","color":"#111","strokeWidth":1.2},
 "encoding":{"x":{"datum":2.984,"type":"quantitative"},"y":{"datum":0.828,"type":"quantitative"},"x2":{"datum":3.205},"y2":{"datum":0.33}}},
{"data":{"values":[{}]},"mark":{"type":"point","shape":"M0,0L-2,-0.45L-2,0.45Z","filled":true,"opacity":1,"color":"#111","size":196,"angle":41.9},
 "encoding":{"x":{"datum":3.216,"type":"quantitative"},"y":{"datum":0.313,"type":"quantitative"}}},
{"data":{"values":[{}]},"mark":{"type":"rule","color":"#18a04a","strokeWidth":1.5},
 "encoding":{"x":{"datum":4.365,"type":"quantitative"},"y":{"datum":-5.275,"type":"quantitative"},"x2":{"datum":4.09},"y2":{"datum":-5.275}}},
{"data":{"values":[{}]},"mark":{"type":"point","shape":"M0,0L-2,-0.45L-2,0.45Z","filled":true,"opacity":1,"color":"#18a04a","size":196,"angle":180},
 "encoding":{"x":{"datum":4.073,"type":"quantitative"},"y":{"datum":-5.275,"type":"quantitative"}}}
]
}
